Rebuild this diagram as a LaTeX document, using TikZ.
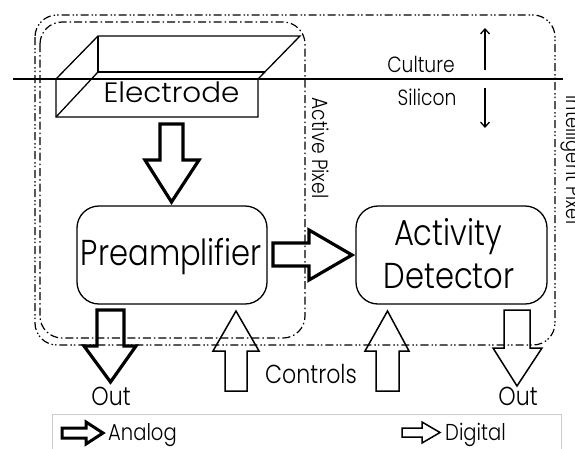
\documentclass[tikz,border=0pt]{standalone}
\usepackage{fontspec}
\IfFontExistsTF{Poppins Light}{%
  \setmainfont{Poppins Light}[FakeStretch=0.85]%
  \newfontfamily\widefont{Poppins Light}[FakeStretch=1.05]}{%
  \setmainfont{Poppins}[FakeStretch=0.85]%
  \newfontfamily\widefont{Poppins}[FakeStretch=1.05]}
\usetikzlibrary{arrows.meta}
\begin{document}
\begin{tikzpicture}[x=1pt,y=-1pt,
  box/.style={draw, line width=1.3pt, rounded corners=22pt, inner sep=0pt},
  analog/.style={draw, line width=3.2pt, line join=miter},
  digital/.style={draw, line width=1.5pt, line join=miter},
  apix/.style={draw, line width=1.2pt, dash pattern=on 8pt off 3pt on 1.5pt off 3pt, rounded corners=22pt},
  ipix/.style={draw, line width=1.2pt, dash pattern=on 8pt off 3pt on 1.5pt off 2pt on 1.5pt off 3pt, rounded corners=22pt},
  thin/.style={draw, line width=1.3pt},
  txt/.style={inner sep=0pt, anchor=base},
  big/.style={txt, font=\fontsize{36}{40}\selectfont},
  elec/.style={txt, font=\widefont\fontsize{28}{32}\selectfont},
  cs/.style={txt, font=\fontsize{22}{26}\selectfont},
  lab/.style={txt, font=\fontsize{26}{30}\selectfont},
  leg/.style={inner sep=0pt, anchor=base west, font=\fontsize{23}{26}\selectfont},
  vert/.style={inner sep=0pt, rotate=-90, anchor=base}
]
\useasboundingbox (0,0) rectangle (575,448);
\clip (0,0) rectangle (575,448);
% culture / silicon line
\draw[thin] (13,79) -- (563,79);
% electrode 3D slab
\filldraw[thin, fill=white, line join=miter] (56,79) -- (98,36) -- (300,36) -- (258,79) -- (258,117) -- (56,117) -- cycle;
\draw[thin] (56,79) -- (258,79);
\draw[thin] (98,36) -- (98,72) -- (265,72);
\draw[thin] (56,117) -- (98,72);
\node[elec] (electrode) at (171.5,102) {Electrode};
% pixel boundaries
\draw[ipix] (35,15) rectangle (555,345);
\draw[apix] (40,22) rectangle (305,338);
\node[vert, font=\fontsize{22}{26}\selectfont] (apixl) at (312,148) {Active Pixel};
\node[vert, font=\fontsize{21}{25}\selectfont] (ipixl) at (566,160) {Intelligent Pixel};
% boxes
\node[box, minimum width=190pt, minimum height=98pt] (pre) at (172,255) {};
\node[big] (pret) at (171.5,265) {Preamplifier};
\node[box, minimum width=191pt, minimum height=98pt] (act) at (451.5,255) {};
\node[big] (actt) at (448,245) {Activity};
\node[big] (dett) at (449,288) {Detector};
% culture / silicon
\node[cs] (cult) at (421,72) {Culture};
\node[cs] (sili) at (427,105) {Silicon};
\coordinate (upa) at (485,70);
\coordinate (upb) at (485,28);
\coordinate (dna) at (485,88);
\coordinate (dnb) at (485,128);
\draw[thin, -{Straight Barb[length=5pt,width=9pt]}] (upa) -- (upb);
\draw[thin, -{Straight Barb[length=5pt,width=9pt]}] (dna) -- (dnb);
% analog arrows
\draw[analog] (160,124) -- (183,124) -- (183,160) -- (199,160) -- (171.5,202) -- (145,160) -- (160,160) -- cycle;
\draw[analog] (273,243) -- (309,243) -- (309,230) -- (352,255) -- (309,280) -- (309,266) -- (273,266) -- cycle;
\draw[analog] (97,310) -- (124,310) -- (124,346) -- (136,346) -- (110.5,382) -- (84,346) -- (97,346) -- cycle;
% digital arrows
\draw[digital] (225,391) -- (247,391) -- (247,351) -- (259,351) -- (236,311) -- (213,351) -- (225,351) -- cycle;
\draw[digital] (376,391) -- (399,391) -- (399,351) -- (409,351) -- (387.5,311) -- (365,351) -- (376,351) -- cycle;
\draw[digital] (504,310) -- (530,310) -- (530,348) -- (542,348) -- (517,386) -- (493,348) -- (504,348) -- cycle;
% labels
\node[lab] (out1) at (111,405) {Out};
\node[lab] (ctrl) at (311,383) {Controls};
\node[lab] (out2) at (518,405) {Out};
% legend
\draw[draw=black!20, line width=1pt] (52,414) rectangle (561,470);
\draw[analog, line width=3pt] (62,428) -- (86,428) -- (86,422) -- (103,433) -- (86,444) -- (86,438) -- (62,438) -- cycle;
\node[leg] (anl) at (108,440) {Analog};
\draw[digital] (402,428) -- (422,428) -- (422,422) -- (440,432.5) -- (422,443) -- (422,437) -- (402,437) -- cycle;
\node[leg] (dig) at (445,440) {Digital};
\end{tikzpicture}
\end{document}
